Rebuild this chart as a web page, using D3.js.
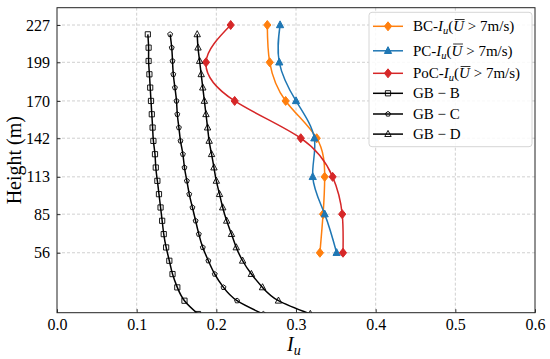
<!DOCTYPE html>
<html>
<head>
<meta charset="utf-8">
<script src="https://cdn.jsdelivr.net/npm/d3@7"></script>
<style>
  html, body { margin: 0; padding: 0; background: #fff; }
  svg { display: block; font-family: 'Liberation Serif', 'Times New Roman', serif; }
</style>
</head>
<body>
<svg id="chart"></svg>
<script>
// measured heights (m) and turbulence intensity Iu
const heights = [56, 85, 113, 142, 170, 199, 227]
const bcIu = [0.330, 0.334, 0.336, 0.326, 0.287, 0.267, 0.264]
const pcIu = [0.351, 0.336, 0.321, 0.323, 0.300, 0.279, 0.280]
const pocIu = [0.359, 0.358, 0.346, 0.306, 0.223, 0.187, 0.218]

// code curves (GB)
const gbHeights = [10, 20, 30, 40, 50, 60, 70, 80, 90, 100, 110, 120, 130, 140, 150, 160, 170, 180, 190, 200, 210, 220]
const gbB = [0.177, 0.160, 0.151, 0.145, 0.141, 0.137, 0.134, 0.132, 0.130, 0.128, 0.126, 0.124, 0.123, 0.121, 0.120, 0.119, 0.118, 0.117, 0.116, 0.115, 0.115, 0.114]
const gbC = [0.259, 0.226, 0.209, 0.198, 0.190, 0.183, 0.178, 0.174, 0.170, 0.166, 0.163, 0.160, 0.158, 0.155, 0.153, 0.151, 0.150, 0.148, 0.146, 0.145, 0.144, 0.142]
const gbD = [0.318, 0.278, 0.258, 0.244, 0.233, 0.225, 0.219, 0.213, 0.208, 0.204, 0.200, 0.197, 0.194, 0.191, 0.189, 0.187, 0.185, 0.183, 0.181, 0.179, 0.177, 0.176]

const xTicks = [0, 0.1, 0.2, 0.3, 0.4, 0.5, 0.6]
const yTicks = [56, 85, 113, 142, 170, 199, 227]

const series = [
  {name: 'BC', x: bcIu, y: heights, color: '#ff7f0e', marker: 'diamond', size: 3.6, fill: true, math: true},
  {name: 'PC', x: pcIu, y: heights, color: '#1f77b4', marker: 'triangle', size: 3.6, fill: true, math: true},
  {name: 'PoC', x: pocIu, y: heights, color: '#d62728', marker: 'diamond', size: 3.6, fill: true, math: true},
  {name: 'GB \u2212 B', x: gbB, y: gbHeights, color: '#000', marker: 'square', size: 2.6, fill: false},
  {name: 'GB \u2212 C', x: gbC, y: gbHeights, color: '#000', marker: 'pentagon', size: 2.6, fill: false},
  {name: 'GB \u2212 D', x: gbD, y: gbHeights, color: '#000', marker: 'triangle', size: 3.2, fill: false}
]

const W = 550
const H = 359
const margin = {left: 57, right: 15, top: 7.7, bottom: 46.3}
const width = W - margin.left - margin.right
const height = H - margin.top - margin.bottom

const markerPath = (type, r) => {
  if (type === 'diamond') return `M0,${-r * 1.25}L${r},0L0,${r * 1.25}L${-r},0Z`
  if (type === 'square') return `M${-r},${-r}H${r}V${r}H${-r}Z`
  if (type === 'triangle') return `M0,${-r * 1.15}L${r},${r * 0.75}L${-r},${r * 0.75}Z`
  if (type === 'pentagon') {
    const pts = d3.range(5).map((i) => {
      const a = -Math.PI / 2 + i * 2 * Math.PI / 5
      return [r * Math.cos(a), r * Math.sin(a)]
    })
    return 'M' + pts.map((p) => p.join(',')).join('L') + 'Z'
  }
}

const svg = d3.select('#chart')
  .attr('width', W)
  .attr('height', H)

svg.append('defs')
  .append('clipPath')
  .attr('id', 'plot-clip')
  .append('rect')
  .attr('width', width)
  .attr('height', height)

const g = svg.append('g')
  .attr('transform', 'translate(' + margin.left + ',' + margin.top + ')')

const xScale = d3.scaleLinear()
  .domain([0, 0.6])
  .range([0, width])
const yScale = d3.scaleLinear()
  .domain([11, 240])
  .range([height, 0])

// grid
g.append('g')
  .classed('grid', true)
  .selectAll('line.vgrid')
  .data(xTicks.slice(1, -1))
  .enter()
  .append('line')
  .attr('x1', (d) => xScale(d))
  .attr('x2', (d) => xScale(d))
  .attr('y1', 0)
  .attr('y2', height)
g.select('g.grid')
  .selectAll('line.hgrid')
  .data(yTicks)
  .enter()
  .append('line')
  .attr('x1', 0)
  .attr('x2', width)
  .attr('y1', (d) => yScale(d))
  .attr('y2', (d) => yScale(d))
g.selectAll('g.grid line')
  .attr('stroke', '#c4c4c4')
  .attr('stroke-width', 0.8)
  .attr('stroke-dasharray', '3,2')

// series
const plot = g.append('g')
  .attr('clip-path', 'url(#plot-clip)')

const line = d3.line()
  .x((d) => xScale(d[0]))
  .y((d) => yScale(d[1]))
  .curve(d3.curveNatural)

series.forEach((s) => {
  const pts = s.x.map((v, i) => [v, s.y[i]])
  plot.append('path')
    .datum(pts)
    .attr('d', line)
    .attr('fill', 'none')
    .attr('stroke', s.color)
    .attr('stroke-width', 1.5)
  plot.append('g')
    .selectAll('path')
    .data(pts)
    .enter()
    .append('path')
    .attr('transform', (d) => 'translate(' + xScale(d[0]) + ',' + yScale(d[1]) + ')')
    .attr('d', markerPath(s.marker, s.size))
    .attr('fill', s.fill ? s.color : 'none')
    .attr('stroke', s.color)
    .attr('stroke-width', s.fill ? 1 : 0.9)
})

// axes
const xAxis = d3.axisBottom(xScale)
  .tickValues(xTicks)
  .tickFormat(d3.format('.1f'))
  .tickSizeInner(-3.5)
  .tickSizeOuter(0)
  .tickPadding(6)
g.append('g')
  .classed('axis', true)
  .attr('transform', 'translate(0,' + height + ')')
  .call(xAxis)
const yAxis = d3.axisLeft(yScale)
  .tickValues(yTicks)
  .tickFormat(d3.format('d'))
  .tickSizeInner(-3.5)
  .tickSizeOuter(0)
  .tickPadding(7)
g.append('g')
  .classed('axis', true)
  .call(yAxis)
g.selectAll('g.axis path.domain').remove()
g.selectAll('g.axis text')
  .attr('font-family', "'Liberation Serif', 'Times New Roman', serif")
  .attr('font-size', 16)
  .attr('fill', '#000')
g.selectAll('g.axis line')
  .attr('stroke', '#000')
  .attr('stroke-width', 0.8)

g.append('rect')
  .attr('width', width)
  .attr('height', height)
  .attr('fill', 'none')
  .attr('stroke', '#222')
  .attr('stroke-width', 1)

// axis labels
svg.append('text')
  .attr('transform', 'translate(21,' + (margin.top + height / 2) + ') rotate(-90)')
  .attr('text-anchor', 'middle')
  .attr('font-size', 20)
  .text('Height (m)')

const xLab = svg.append('text')
  .attr('x', margin.left + width / 2 - 9)
  .attr('y', 351)
  .attr('font-size', 20)
xLab.append('tspan').attr('font-style', 'italic').text('I')
xLab.append('tspan').attr('font-style', 'italic').attr('font-size', 14).attr('dy', 4).text('u')

// legend
const leg = svg.append('g')
  .attr('transform', 'translate(369,12.3)')
leg.append('rect')
  .attr('width', 163)
  .attr('height', 134.4)
  .attr('rx', 3)
  .attr('fill', '#fff')
  .attr('fill-opacity', 0.85)
  .attr('stroke', '#d6d6d6')
  .attr('stroke-width', 1)

const rowY = [14, 38.5, 61, 81, 101.7, 121.8]
series.forEach((s, i) => {
  const row = leg.append('g')
    .attr('transform', 'translate(0,' + rowY[i] + ')')
  row.append('line')
    .attr('x1', 4)
    .attr('x2', 34)
    .attr('stroke', s.color)
    .attr('stroke-width', 1.5)
  row.append('path')
    .attr('transform', 'translate(19,0)')
    .attr('d', markerPath(s.marker, s.size))
    .attr('fill', s.fill ? s.color : 'none')
    .attr('stroke', s.color)
    .attr('stroke-width', s.fill ? 1 : 0.9)
  const t = row.append('text')
    .attr('x', 44)
    .attr('y', 5)
    .attr('font-size', 15)
  if (s.math) {
    t.append('tspan').text(s.name + '-')
    t.append('tspan').attr('font-style', 'italic').text('I')
    t.append('tspan').attr('font-style', 'italic').attr('font-size', 10.5).attr('dy', 3).text('u')
    t.append('tspan').attr('dy', -3).text('(')
    t.append('tspan').attr('font-style', 'italic').text('U')
    t.append('tspan').text(' > 7m/s)')
    const ext = t.node().getExtentOfChar(s.name.length + 4)
    row.append('line')
      .attr('x1', ext.x + 1.5)
      .attr('x2', ext.x + ext.width + 0.5)
      .attr('y1', ext.y + 1.2)
      .attr('y2', ext.y + 1.2)
      .attr('stroke', '#000')
      .attr('stroke-width', 0.8)
  } else {
    t.text(s.name)
  }
})
</script>
</body>
</html>
